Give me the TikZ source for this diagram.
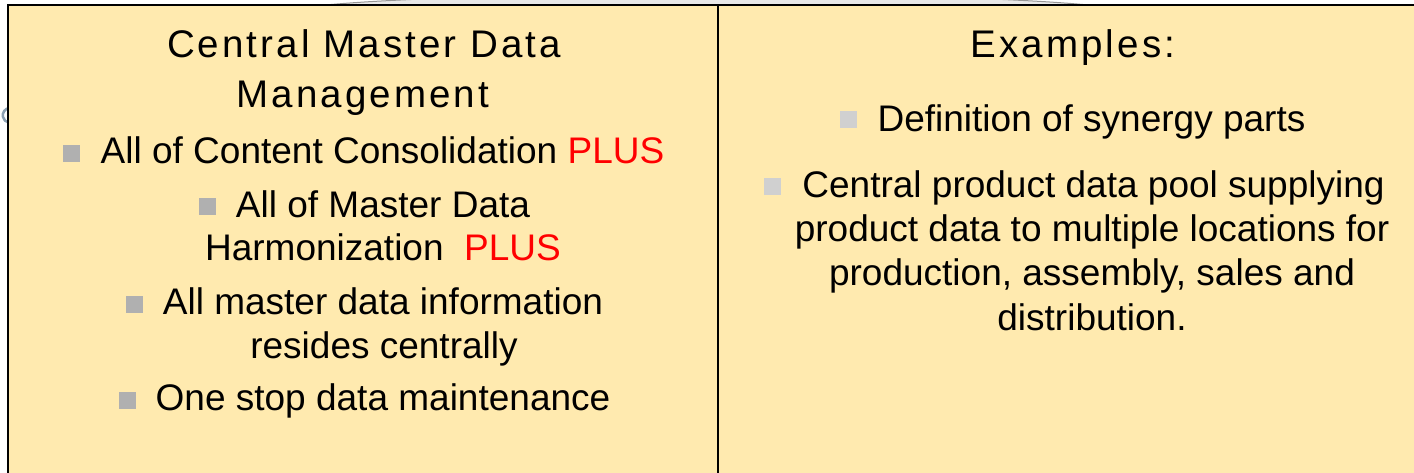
\documentclass[tikz,border=0pt]{standalone}
\usepackage{fontspec}
\setmainfont{Liberation Sans}
\newfontfamily\spacedfont[LetterSpace=8]{Liberation Sans}
\definecolor{boxfill}{RGB}{255,234,175}
\definecolor{bulletdark}{RGB}{176,176,176}
\definecolor{bulletlight}{RGB}{208,208,208}
\definecolor{plusred}{RGB}{255,0,0}
\definecolor{bgshape}{RGB}{232,232,232}
\definecolor{bgedge}{RGB}{150,150,150}
\definecolor{bgletter}{RGB}{140,160,178}
\begin{document}
\begin{tikzpicture}[x=1pt,y=1pt,
  panel/.style={draw=black, line width=2pt, fill=boxfill},
  titletext/.style={font=\spacedfont\fontsize{38.5}{44}\selectfont, anchor=base, inner sep=0pt},
  bodytext/.style={font=\fontsize{37}{44}\selectfont, anchor=base, inner sep=0pt},
  bulletdk/.style={fill=bulletdark, minimum size=17pt, inner sep=0pt},
  bulletlt/.style={fill=bulletlight, minimum size=17pt, inner sep=0pt}]
\useasboundingbox (0,0) rectangle (1414,-473);
% background elements partly hidden
\filldraw[fill=bgshape, draw=bgedge, line width=1pt] (707,-13) ellipse [x radius=420, y radius=19];
\draw[bgletter, line width=2.5pt] (9,-108) arc[start angle=100, end angle=260, radius=7.5];
% panels
\path[panel] (8,-5) rectangle (718,-485);
\path[panel] (718,-5) rectangle (1425,-485);
% left panel
\node[titletext] (t1) at (364,-58) {Central Master Data};
\node[titletext] (t2) at (363,-108) {Management};
\node[bulletdk] (lb1) at (71,-154) {};
\node[bodytext] (l1) at (382.5,-164) {All of Content Consolidation \textcolor{plusred}{PLUS}};
\node[bulletdk] (lb2) at (207,-207) {};
\node[bodytext] (l2a) at (383,-217.5) {All of Master Data};
\node[bodytext] (l2b) at (383,-261) {Harmonization\ \ \textcolor{plusred}{PLUS}};
\node[bulletdk] (lb3) at (134,-304) {};
\node[bodytext] (l3a) at (383,-314) {All master data information};
\node[bodytext] (l3b) at (384,-358) {resides centrally};
\node[bulletdk] (lb4) at (127,-400.5) {};
\node[bodytext] (l4) at (383,-410) {One stop data maintenance};
% right panel
\node[titletext] (t3) at (1073,-58) {Examples:};
\node[bulletlt] (rb1) at (848.5,-120) {};
\node[bodytext] (r1) at (1091.5,-131.5) {Definition of synergy parts};
\node[bulletlt] (rb2) at (772,-187) {};
\node[bodytext] (r2a) at (1093.5,-198) {Central product data pool supplying};
\node[bodytext] (r2b) at (1092,-242) {product data to multiple locations for};
\node[bodytext] (r2c) at (1092,-285) {production, assembly, sales and};
\node[bodytext] (r2d) at (1092,-330) {distribution.};
\end{tikzpicture}
\end{document}
